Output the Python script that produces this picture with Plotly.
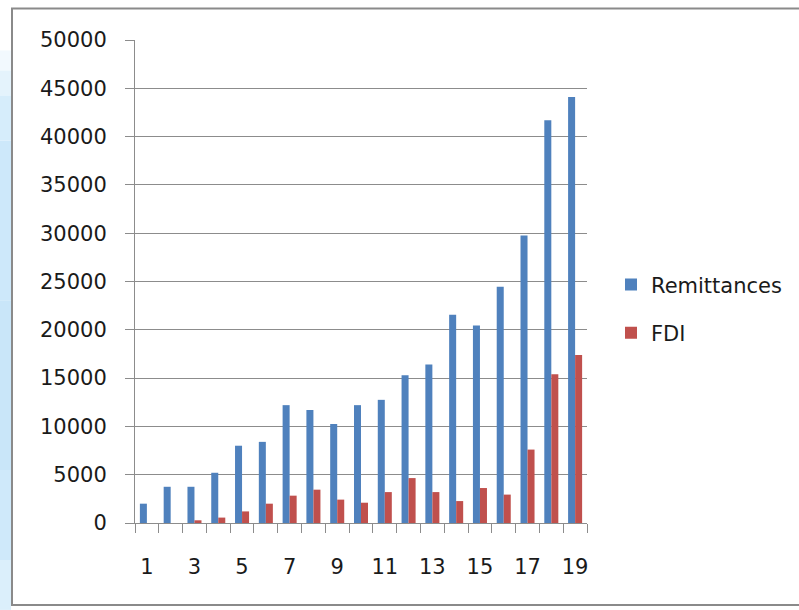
import plotly.graph_objects as go

# Years (1..19) and the two inflow series
periods = ["1", "2", "3", "4", "5", "6", "7", "8", "9", "10",
           "11", "12", "13", "14", "15", "16", "17", "18", "19"]
period_labels = ["1", "", "3", "", "5", "", "7", "", "9", "",
                 "11", "", "13", "", "15", "", "17", "", "19"]
remittances = [2000, 3750, 3750, 5200, 8000, 8400, 12200, 11700, 10250, 12200,
               12750, 15300, 16400, 21550, 20450, 24450, 29750, 41700, 44100]
fdi = [0, 0, 280, 560, 1200, 2000, 2830, 3450, 2420, 2100,
       3200, 4650, 3200, 2270, 3620, 2940, 7600, 15400, 17400]
y_ticks = [0, 5000, 10000, 15000, 20000, 25000, 30000, 35000, 40000, 45000, 50000]

FONT = "DejaVu Sans"
GRID = "#8c8c8c"

fig = go.Figure()
fig.add_trace(go.Bar(x=periods, y=remittances, name="Remittances", legendgroup="rem",
                     marker=dict(color="#4f81bd", line=dict(width=0))))
fig.add_trace(go.Bar(x=periods, y=fdi, name="FDI", legendgroup="fdi",
                     marker=dict(color="#c0504d", line=dict(width=0))))

# plot area spans x 135..587 px, y 39.5..523 px
L, R, T, B = 135, 587, 39.5, 523
W, H = 799, 610
pw, ph = R - L, B - T


def px_x(v):
    return (v - L) / pw


def px_y(v):
    return (B - v) / ph


shapes = []
# soft blue page strip to the left of the chart frame
strip = [(0, 50, "#ffffff"), (50, 70, "#f2f9fe"), (70, 95, "#e4f3fc"),
         (95, 140, "#d6edfb"), (140, 300, "#cde8fa"), (300, 470, "#c9e6f9"),
         (470, 560, "#cfe9fa"), (560, 610, "#dbeffb")]
for y0, y1, col in strip:
    shapes.append(dict(type="rect", xref="paper", yref="paper",
                       x0=px_x(0), x1=px_x(11), y0=px_y(y1), y1=px_y(y0),
                       fillcolor=col, line=dict(width=0), layer="below"))
# chart frame
shapes.append(dict(type="rect", xref="paper", yref="paper",
                   x0=px_x(12), x1=px_x(805), y0=px_y(605), y1=px_y(8),
                   fillcolor="rgba(0,0,0,0)", line=dict(color="#8a8a8a", width=2)))

fig.update_layout(
    width=W, height=H,
    margin=dict(l=L, r=W - R, t=T, b=H - B, pad=0, autoexpand=False),
    paper_bgcolor="white", plot_bgcolor="white",
    font=dict(family=FONT, size=21, color="#1a1a1a"),
    barmode="group", bargap=0.41, bargroupgap=0,
    shapes=shapes,
    showlegend=True,
    legend=dict(x=px_x(611), y=px_y(264), xanchor="left", yanchor="top",
                font=dict(family=FONT, size=21, color="#1a1a1a"),
                tracegroupgap=18, bgcolor="rgba(0,0,0,0)", traceorder="grouped"),
    xaxis=dict(type="category", tickvals=periods, ticktext=period_labels,
               tickson="boundaries", ticks="outside", ticklen=9, tickcolor=GRID,
               showline=True, linecolor=GRID, linewidth=1, showgrid=False,
               tickangle=0, ticklabelstandoff=25, tickfont=dict(size=21)),
    yaxis=dict(range=[0, 50000], tickvals=y_ticks, tickformat="d",
               ticks="outside", ticklen=9,
               tickcolor=GRID, showline=True, linecolor=GRID, linewidth=1,
               showgrid=True, gridcolor=GRID, gridwidth=1, zeroline=False,
               ticklabelstandoff=14, tickfont=dict(size=21)),
)

fig.write_html("out.html")
